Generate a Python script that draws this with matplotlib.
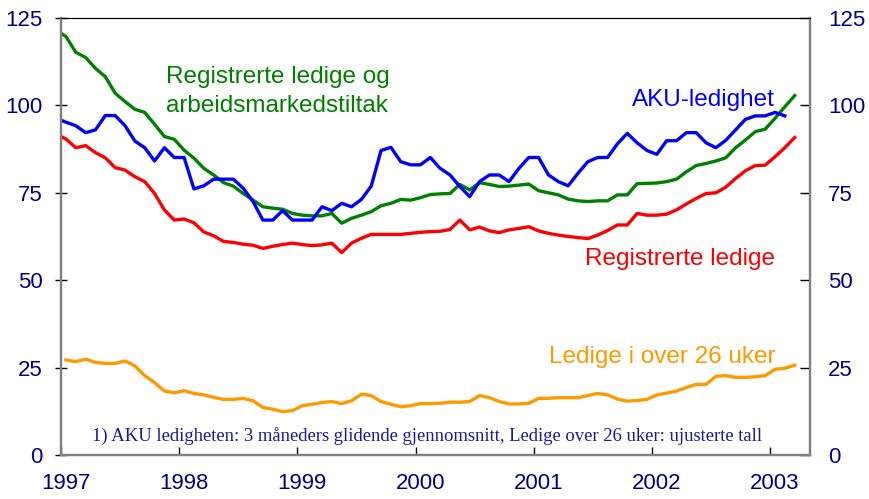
import numpy as np
import matplotlib
matplotlib.use("Agg")
import matplotlib.pyplot as plt
from matplotlib.transforms import ScaledTranslation

# ---- data (monthly, index 0 = Dec 1996) ----
start_year, start_month = 1996, 12

green = [121.6,
         119.7, 115.2, 113.7, 110.6, 108.2, 103.5, 101.1, 98.9, 98.0, 94.6, 91.1, 90.3, 87.2, 84.9, 82.0,
         80.1, 77.9, 76.9, 74.8, 72.9, 71.0, 70.6, 70.3, 69.1, 68.6, 68.4, 68.4, 69.1, 66.3, 67.7, 68.6,
         69.6, 71.3, 72.0, 73.1, 72.9, 73.6, 74.5, 74.7, 74.8,
         77.4, 75.8, 77.9, 77.4, 76.8, 76.9, 77.2, 77.5, 75.6, 75.0, 74.4, 73.2, 72.7, 72.5, 72.7, 72.7,
         74.4, 74.4,
         77.6, 77.7, 77.8, 78.2, 78.9, 81.0, 82.8, 83.4, 84.1, 85.0, 87.9, 90.1, 92.5, 93.2, 96.3, 99.6,
         102.8]

blue = [96.3,
        95.2, 94.2, 92.2, 93.0, 97.1, 97.1, 94.2, 89.8, 87.9, 84.1, 87.9, 85.1, 85.1, 76.1, 77.0,
        78.9, 78.9, 78.9, 76.3, 72.5, 67.2, 67.2, 69.9, 67.2, 67.2, 67.2, 71.0, 69.9, 72.0, 71.0, 73.1,
        76.9, 87.1, 88.0, 83.9, 83.0, 83.0, 85.1, 82.0, 80.1,
        76.8, 73.9, 78.2, 80.1, 80.1, 78.2, 82.0, 85.1, 85.1, 80.1, 78.2, 77.0, 80.6, 83.9, 85.1, 85.1,
        89.0, 92.0,
        89.3, 87.1, 86.0, 89.9, 89.9, 92.2, 92.2, 89.3, 87.9, 90.0, 93.0, 96.0, 97.0, 97.0, 98.0, 97.0]

red = [91.8,
       90.4, 87.9, 88.5, 86.5, 85.0, 82.2, 81.5, 79.6, 78.2, 74.8, 70.1, 67.2, 67.5, 66.4, 63.8,
       62.7, 61.1, 60.8, 60.3, 60.0, 59.1, 59.7, 60.2, 60.6, 60.2, 59.9, 60.1, 60.6, 57.9, 60.6, 62.0,
       63.1, 63.1, 63.1, 63.1, 63.4, 63.7, 63.9, 64.0, 64.5,
       67.2, 64.4, 65.2, 64.1, 63.6, 64.4, 64.8, 65.3, 64.1, 63.4, 62.9, 62.5, 62.2, 61.9, 62.9, 64.2,
       65.8, 65.8,
       69.1, 68.6, 68.6, 68.9, 70.1, 71.8, 73.4, 74.8, 75.0, 76.6, 79.1, 81.3, 82.8, 82.9, 85.3, 87.9,
       90.8]

# orange starts Jan 1997 (index 1)
orange = [27.2, 26.7, 27.4, 26.5, 26.2, 26.2, 26.9, 25.5, 22.7, 20.7, 18.3, 17.8, 18.4, 17.6, 17.2,
          16.5, 15.9, 15.9, 16.2, 15.5, 13.6, 13.1, 12.4, 12.7, 14.1, 14.5, 15.0, 15.3, 14.7, 15.5,
          17.4, 17.0, 15.3, 14.5, 13.8, 14.1, 14.7, 14.7,
          14.8, 15.1, 15.1, 15.3, 17.0, 16.4, 15.3, 14.6, 14.6, 14.8, 16.2, 16.2, 16.4, 16.4, 16.4,
          17.0, 17.6, 17.2, 16.0, 15.4,
          15.6, 15.9, 17.2, 17.7, 18.3, 19.3, 20.2, 20.2, 22.5, 22.7, 22.2, 22.2, 22.4, 22.7, 24.5,
          24.8, 25.7]

yticks = [0, 25, 50, 75, 100, 125]
xticks = [1997, 1998, 1999, 2000, 2001, 2002, 2003]

labels = {
    "green": "Registrerte ledige og\narbeidsmarkedstiltak",
    "blue": "AKU-ledighet",
    "red": "Registrerte ledige",
    "orange": "Ledige i over 26 uker",
}
footnote = "1) AKU ledigheten: 3 måneders glidende gjennomsnitt, Ledige over 26 uker: ujusterte tall"


def months_to_t(n, offset=0):
    idx = np.arange(n) + offset
    m0 = start_year * 12 + (start_month - 1)
    m = m0 + idx
    return m // 12 + (m % 12 + 0.5) / 12.0


def px_to_year(px):
    return 1997 + (px - 60.8) / 118.2


C_GREEN = "#008000"
C_BLUE = "#0000ff"
C_RED = "#ff0000"
C_ORANGE = "#ff9900"
C_NAVY = "#000080"

plt.rcParams['font.family'] = ['Liberation Sans', 'DejaVu Sans']

fig = plt.figure(figsize=(8.70, 4.99), dpi=100)
ax = fig.add_axes([61 / 870, 1 - 455 / 499, (810 - 61) / 870, (455 - 18) / 499])

lw = 2.4
ax.plot(months_to_t(len(green)), green, color=C_GREEN, lw=lw, zorder=3)
ax.plot(months_to_t(len(red)), red, color=C_RED, lw=lw, zorder=3)
ax.plot(months_to_t(len(blue)), blue, color=C_BLUE, lw=lw, zorder=4)
ax.plot(months_to_t(len(orange), offset=1), orange, color=C_ORANGE, lw=lw, zorder=3)

ax.set_xlim(1997, 2003.338)
ax.set_ylim(0, 125)

tick_fs = 16
ax.set_xticks(xticks)
ax.set_xticklabels([str(x) for x in xticks])
ax.set_yticks(yticks)
ax.set_yticklabels([str(y) for y in yticks])

ax.tick_params(axis='x', direction='in', length=6, width=1, color='black',
               labelsize=tick_fs, labelcolor=C_NAVY, pad=13)
ax.tick_params(axis='y', direction='inout', length=8, width=1, color='black',
               labelsize=tick_fs, labelcolor=C_NAVY, pad=9)
shift = ScaledTranslation(5 / 100, 0, fig.dpi_scale_trans)
for lab in ax.get_xticklabels():
    lab.set_transform(lab.get_transform() + shift)

ax2 = ax.twinx()
ax2.set_ylim(0, 125)
ax2.set_yticks(yticks)
ax2.set_yticklabels([str(y) for y in yticks])
ax2.tick_params(axis='y', direction='in', length=7, width=1, color='black',
                labelsize=tick_fs, labelcolor=C_NAVY, pad=13)

for a in (ax, ax2):
    for side in ('left', 'right', 'bottom'):
        a.spines[side].set_color('#808080')
        a.spines[side].set_linewidth(1.6)
    a.spines['top'].set_color('black')
    a.spines['top'].set_linewidth(0.8)

fs = 17.5
g1, g2 = labels["green"].split("\n")
ax.text(px_to_year(165.5), 106.3, g1, color=C_GREEN, fontsize=fs, ha='left', va='baseline')
ax.text(px_to_year(165.5), 98.2, g2, color=C_GREEN, fontsize=fs, ha='left', va='baseline')
ax.text(px_to_year(775), 99.8, labels["blue"], color=C_BLUE, fontsize=fs,
        ha='right', va='baseline')
ax.text(px_to_year(775), 54.3, labels["red"], color=C_RED, fontsize=fs,
        ha='right', va='baseline')
ax.text(px_to_year(775), 26.4, labels["orange"], color=C_ORANGE, fontsize=fs,
        ha='right', va='baseline')
ax.text(px_to_year(92), 4.0, footnote, color='#1a1a99', fontsize=13.4,
        family=['Liberation Serif', 'DejaVu Serif'], ha='left', va='baseline')

fig.savefig("out.png", dpi=100)
